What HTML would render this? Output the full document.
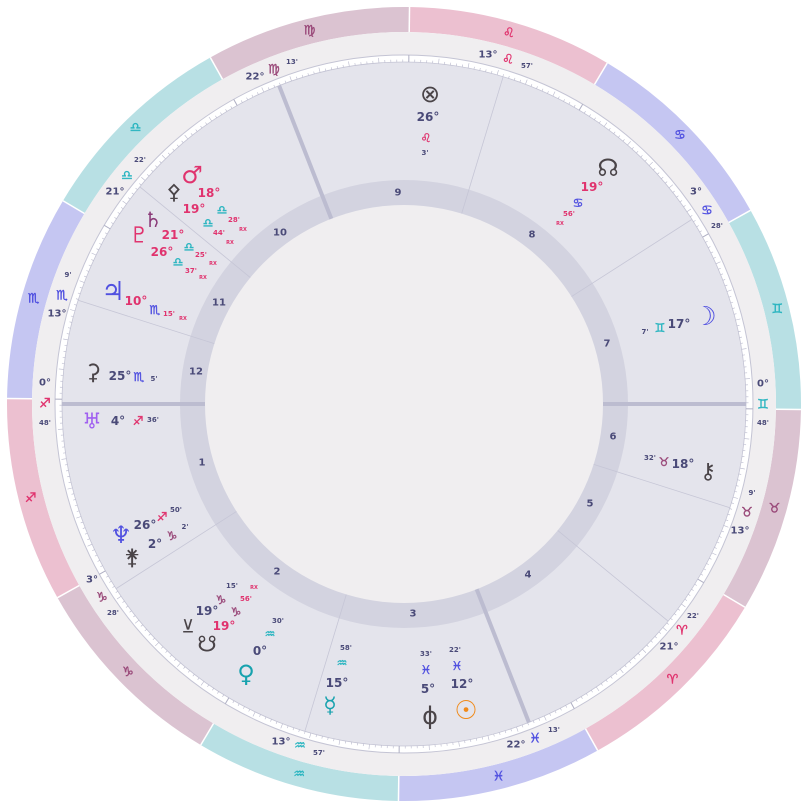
<!DOCTYPE html>
<html><head><meta charset="utf-8"><style>
html,body{margin:0;padding:0;background:#fff;}
svg{display:block;}
text{font-family:"DejaVu Sans","Liberation Sans",sans-serif;}
.n{font-family:"Liberation Sans","DejaVu Sans",sans-serif;font-weight:bold;}
.sg text{stroke-width:0.4;}
</style></head><body>
<svg id="s" width="809" height="809" viewBox="0 0 809 809" xmlns="http://www.w3.org/2000/svg">
<g id="g"></g>
<g id="t" text-anchor="middle" dominant-baseline="central">
<g class="n" font-size="10" fill="#4a4a78">
<text x="255" y="77">22°</text><text x="292" y="62" font-size="7">13'</text>
<text x="488" y="55">13°</text><text x="527" y="66" font-size="7">57'</text>
<text x="696" y="192">3°</text><text x="717" y="226" font-size="7">28'</text>
<text x="763" y="384">0°</text><text x="763" y="423" font-size="7">48'</text>
<text x="752" y="493" font-size="7">9'</text><text x="740" y="531">13°</text>
<text x="693" y="616" font-size="7">22'</text><text x="669" y="647">21°</text>
<text x="516" y="745">22°</text><text x="554" y="730" font-size="7">13'</text>
<text x="281" y="742">13°</text><text x="319" y="753" font-size="7">57'</text>
<text x="92" y="580">3°</text><text x="113" y="613" font-size="7">28'</text>
<text x="45" y="383">0°</text><text x="45" y="423" font-size="7">48'</text>
<text x="68" y="275" font-size="7">9'</text><text x="57" y="314">13°</text>
<text x="140" y="160" font-size="7">22'</text><text x="115" y="192">21°</text>
</g>
<g font-size="13" class="sg">
<text x="274" y="70" fill="#9a4a7a" stroke="#9a4a7a">♍︎</text>
<text x="508" y="60" fill="#e0336e" stroke="#e0336e">♌︎</text>
<text x="707" y="211" fill="#5050e0" stroke="#5050e0">♋︎</text>
<text x="763" y="405" fill="#2bb5c0" stroke="#2bb5c0">♊︎</text>
<text x="747" y="513" fill="#9a4a7a" stroke="#9a4a7a">♉︎</text>
<text x="682" y="631" fill="#e0336e" stroke="#e0336e">♈︎</text>
<text x="535" y="739" fill="#5050e0" stroke="#5050e0">♓︎</text>
<text x="300" y="746" fill="#2bb5c0" stroke="#2bb5c0">♒︎</text>
<text x="102" y="598" fill="#9a4a7a" stroke="#9a4a7a">♑︎</text>
<text x="45" y="404" fill="#e0336e" stroke="#e0336e">♐︎</text>
<text x="62" y="296" fill="#5050e0" stroke="#5050e0">♏︎</text>
<text x="127" y="176" fill="#2bb5c0" stroke="#2bb5c0">♎︎</text>
</g>
<g class="n" font-size="10" fill="#4a4a78">
<text x="202" y="463">1</text><text x="277" y="572">2</text><text x="413" y="614">3</text>
<text x="528" y="575">4</text><text x="590" y="504">5</text><text x="613" y="437">6</text>
<text x="607" y="344">7</text><text x="532" y="235">8</text><text x="398" y="193">9</text>
<text x="280" y="233">10</text><text x="219" y="303">11</text><text x="196" y="372">12</text>
</g>
<g font-size="24">
<text x="192" y="175" fill="#e0336e">♂︎</text>
<text x="174" y="192" fill="#4a4448" font-size="21">⚴</text>
<text x="153" y="220" fill="#8a3a78" font-size="21">♄︎</text>
<text x="139" y="236" fill="#e0336e" font-size="22">♇︎</text>
<text x="113" y="292" fill="#5050e0" font-size="26">♃︎</text>
<text x="93" y="373" fill="#4a4448" font-size="22">⚳</text>
<text x="92" y="422" fill="#a060f0" font-size="22">♅︎</text>
<text x="121" y="535" fill="#5050e0" font-size="24">♆︎</text>
<text x="132" y="558" fill="#4a4448" font-size="22">⚵</text>
<text x="188" y="627" fill="#4a4448" font-size="18">⊻</text>
<text x="207" y="645" fill="#4a4448" font-size="22">☋︎</text>
<text x="246" y="674" fill="#17a2ae" font-size="24">♀︎</text>
<text x="330" y="706" fill="#17a2ae" font-size="22">☿︎</text>
<text x="430" y="716" fill="#4a4448" font-size="24">ɸ</text>
<text x="466" y="711" fill="#f08a1a" font-size="26">☉︎</text>
<text x="708" y="472" fill="#4a4448" font-size="22">⚷</text>
<text x="705" y="317" fill="#5050e0" font-size="26">☽︎</text>
<text x="608" y="168" fill="#4a4448" font-size="24">☊︎</text>
<text x="430" y="94" fill="#4a4448" font-size="24">⊗</text>
</g>
<g class="n" font-size="12">
<text x="209" y="193" fill="#e0336e">18°</text>
<text x="194" y="209" fill="#e0336e">19°</text>
<text x="173" y="235" fill="#e0336e">21°</text>
<text x="162" y="252" fill="#e0336e">26°</text>
<text x="136" y="301" fill="#e0336e">10°</text>
<text x="120" y="376" fill="#4a4a78">25°</text>
<text x="118" y="421" fill="#4a4a78">4°</text>
<text x="145" y="525" fill="#4a4a78">26°</text>
<text x="155" y="544" fill="#4a4a78">2°</text>
<text x="207" y="611" fill="#4a4a78">19°</text>
<text x="224" y="626" fill="#e0336e">19°</text>
<text x="260" y="651" fill="#4a4a78">0°</text>
<text x="337" y="683" fill="#4a4a78">15°</text>
<text x="428" y="689" fill="#4a4a78">5°</text>
<text x="462" y="684" fill="#4a4a78">12°</text>
<text x="683" y="464" fill="#4a4a78">18°</text>
<text x="679" y="324" fill="#4a4a78">17°</text>
<text x="592" y="187" fill="#e0336e">19°</text>
<text x="428" y="117" fill="#4a4a78">26°</text>
</g>
<g font-size="12" class="sg">
<text x="222" y="210" fill="#2bb5c0" stroke="#2bb5c0">♎︎</text>
<text x="208" y="223" fill="#2bb5c0" stroke="#2bb5c0">♎︎</text>
<text x="189" y="247" fill="#2bb5c0" stroke="#2bb5c0">♎︎</text>
<text x="178" y="262" fill="#2bb5c0" stroke="#2bb5c0">♎︎</text>
<text x="155" y="310" fill="#5050e0" stroke="#5050e0">♏︎</text>
<text x="139" y="377" fill="#5050e0" stroke="#5050e0">♏︎</text>
<text x="138" y="421" fill="#e0336e" stroke="#e0336e">♐︎</text>
<text x="162" y="517" fill="#e0336e" stroke="#e0336e">♐︎</text>
<text x="172" y="536" fill="#9a4a7a" stroke="#9a4a7a">♑︎</text>
<text x="221" y="600" fill="#9a4a7a" stroke="#9a4a7a">♑︎</text>
<text x="236" y="612" fill="#9a4a7a" stroke="#9a4a7a">♑︎</text>
<text x="270" y="634" fill="#2bb5c0" stroke="#2bb5c0">♒︎</text>
<text x="342" y="663" fill="#2bb5c0" stroke="#2bb5c0">♒︎</text>
<text x="426" y="670" fill="#5050e0" stroke="#5050e0">♓︎</text>
<text x="457" y="666" fill="#5050e0" stroke="#5050e0">♓︎</text>
<text x="664" y="462" fill="#9a4a7a" stroke="#9a4a7a">♉︎</text>
<text x="660" y="328" fill="#2bb5c0" stroke="#2bb5c0">♊︎</text>
<text x="578" y="203" fill="#5050e0" stroke="#5050e0">♋︎</text>
<text x="426" y="138" fill="#e0336e" stroke="#e0336e">♌︎</text>
</g>
<g class="n" font-size="7">
<text x="234" y="220" fill="#e0336e">28'</text>
<text x="219" y="233" fill="#e0336e">44'</text>
<text x="201" y="255" fill="#e0336e">25'</text>
<text x="191" y="271" fill="#e0336e">37'</text>
<text x="169" y="314" fill="#e0336e">15'</text>
<text x="154" y="379" fill="#4a4a78">5'</text>
<text x="153" y="420" fill="#4a4a78">36'</text>
<text x="176" y="510" fill="#4a4a78">50'</text>
<text x="185" y="527" fill="#4a4a78">2'</text>
<text x="232" y="586" fill="#4a4a78">15'</text>
<text x="246" y="599" fill="#e0336e">56'</text>
<text x="278" y="621" fill="#4a4a78">30'</text>
<text x="346" y="648" fill="#4a4a78">58'</text>
<text x="426" y="654" fill="#4a4a78">33'</text>
<text x="455" y="650" fill="#4a4a78">22'</text>
<text x="650" y="458" fill="#4a4a78">32'</text>
<text x="645" y="332" fill="#4a4a78">7'</text>
<text x="569" y="214" fill="#e0336e">56'</text>
<text x="425" y="153" fill="#4a4a78">3'</text>
</g>
<g class="n" font-size="5" fill="#e0336e">
<text x="243" y="230">RX</text><text x="230" y="243">RX</text><text x="213" y="264">RX</text>
<text x="203" y="278">RX</text><text x="183" y="319">RX</text><text x="254" y="588">RX</text>
<text x="560" y="224">RX</text>
</g>
</g>
</svg>
<script>
(function(){
var cx=404,cy=404,NS="http://www.w3.org/2000/svg",g=document.getElementById("g");
function el(n,a){var e=document.createElementNS(NS,n);for(var k in a)e.setAttribute(k,a[k]);g.appendChild(e);return e;}
function P(r,d){var t=d*Math.PI/180;return [cx+r*Math.cos(t),cy-r*Math.sin(t)];}
function arc(r1,r2,a1,a2,f){var p1=P(r2,a1),p2=P(r2,a2),p3=P(r1,a2),p4=P(r1,a1);
el("path",{d:"M"+p1+" A"+r2+" "+r2+" 0 0 0 "+p2+" L"+p3+" A"+r1+" "+r1+" 0 0 1 "+p4+"Z",fill:f});}
function th(l){return l-60.8;}
var cols=["#ecc0d0","#dbc3d1","#b8e0e4","#c5c6f2"];
var glyph=["♈","♉","♊","♋","♌","♍","♎","♏","♐","♑","♒","♓"];
var gcol=["#e0336e","#9a4a7a","#2bb5c0","#5050e0"];
for(var i=0;i<12;i++){arc(372,397,th(i*30),th(i*30+30),cols[i%4]);}
for(var i=0;i<12;i++){var a=P(372,th(i*30)),b=P(397,th(i*30));el("line",{x1:a[0],y1:a[1],x2:b[0],y2:b[1],stroke:"#fff","stroke-width":1.5});}
el("circle",{cx:cx,cy:cy,r:372,fill:"#f0eef0"});
el("circle",{cx:cx,cy:cy,r:349,fill:"#fff",stroke:"#c4c4d4","stroke-width":1});
el("circle",{cx:cx,cy:cy,r:342,fill:"#e4e4ec",stroke:"#c4c4d4","stroke-width":0.8});
for(var d=0;d<360;d++){var a=th(d),L=(d%5==0)?5:2.5;var p=P(342,a),q=P(342+L,a);
el("line",{x1:p[0],y1:p[1],x2:q[0],y2:q[1],stroke:"#b8b8cc","stroke-width":0.6});}
for(var i=0;i<12;i++){var p=P(342,th(i*30)),q=P(349,th(i*30));el("line",{x1:p[0],y1:p[1],x2:q[0],y2:q[1],stroke:"#b0b0c4","stroke-width":1});}
el("circle",{cx:cx,cy:cy,r:224,fill:"#d3d3e0"});
el("circle",{cx:cx,cy:cy,r:199,fill:"#f0eef0"});
var cusps=[240.8,273.47,313.95,352.22,21.37,43.15,60.8,93.47,133.95,172.22,201.37,223.15];
for(var i=0;i<12;i++){var a=th(cusps[i]),thick=(i%3==0);var p=P(199,a),q=P(342,a);
el("line",{x1:p[0],y1:p[1],x2:q[0],y2:q[1],stroke:thick?"#bcbcd0":"#c6c6d6","stroke-width":thick?4:0.8});}
for(var i=0;i<12;i++){var m=P(385,th(i*30+15));var t=el("text",{x:m[0],y:m[1],"text-anchor":"middle","dominant-baseline":"central","font-size":13,fill:gcol[i%4],stroke:gcol[i%4],"stroke-width":0.4});t.textContent=glyph[i]+"\uFE0E";}
})();
</script>
</body></html>
